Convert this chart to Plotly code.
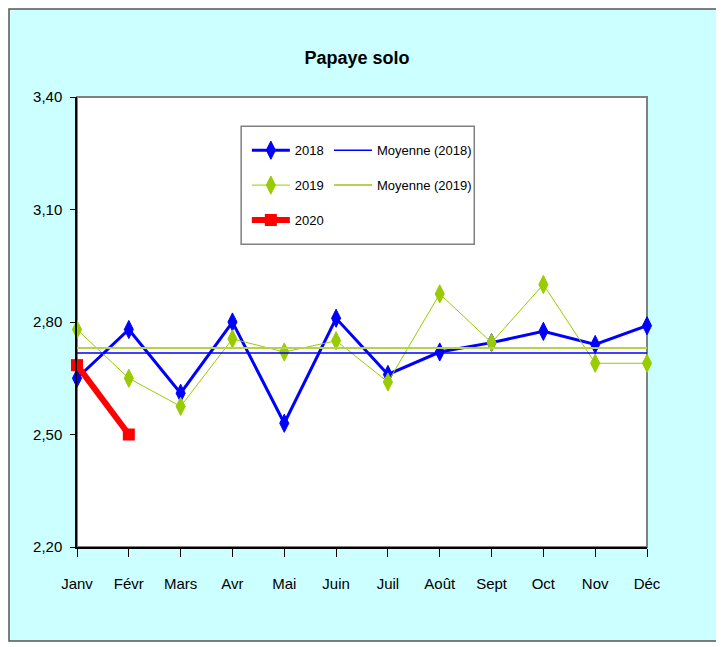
import numpy as np
import plotly.graph_objects as go

# données (prix mensuels, Papaye solo)
mois = ["Janv", "Févr", "Mars", "Avr", "Mai", "Juin", "Juil", "Août", "Sept", "Oct", "Nov", "Déc"]
prix_2018 = [2.65, 2.78, 2.61, 2.80, 2.53, 2.81, 2.66, 2.72, 2.745, 2.775, 2.74, 2.79]
prix_2019 = [2.78, 2.65, 2.575, 2.755, 2.72, 2.75, 2.64, 2.875, 2.745, 2.90, 2.69, 2.69]
prix_2020 = [2.685, 2.50]
y_ticks = [2.20, 2.50, 2.80, 3.10, 3.40]

FONT = "Liberation Sans Narrow, Arial Narrow, Liberation Sans, Arial, sans-serif"
BLEU = "#0000FF"
VERT = "#99CC00"
VERT_MOY = "#B4D24B"
ROUGE = "#FF0000"

x = list(range(len(mois)))
moy_2018 = float(np.mean(prix_2018))
moy_2019 = float(np.mean(prix_2019))

fig = go.Figure()

fig.add_trace(go.Scatter(
    x=x, y=prix_2018, name="2018", mode="lines+markers",
    line=dict(color=BLEU, width=3),
    marker=dict(symbol="diamond-tall", size=13, color=BLEU, line=dict(color=BLEU, width=1)),
    cliponaxis=False, legend="legend", legendgroup="a",
))
fig.add_trace(go.Scatter(
    x=x, y=prix_2019, name="2019", mode="lines+markers",
    line=dict(color=VERT, width=1),
    marker=dict(symbol="diamond-tall", size=13, color=VERT, line=dict(color=VERT, width=1)),
    cliponaxis=False, legend="legend", legendgroup="b",
))
fig.add_trace(go.Scatter(
    x=x[:len(prix_2020)], y=prix_2020, name="2020", mode="lines+markers",
    line=dict(color=ROUGE, width=6),
    marker=dict(symbol="square", size=12, color=ROUGE),
    cliponaxis=False, legend="legend", legendgroup="c",
))
fig.add_trace(go.Scatter(
    x=[x[0], x[-1]], y=[moy_2018, moy_2018], name="Moyenne (2018)", mode="lines",
    line=dict(color=BLEU, width=1.5),
    legend="legend2", legendgroup="d",
))
fig.add_trace(go.Scatter(
    x=[x[0], x[-1]], y=[moy_2019, moy_2019], name="Moyenne (2019)", mode="lines",
    line=dict(color=VERT_MOY, width=2),
    legend="legend2", legendgroup="e",
))

# fond cyan + cadre blanc de la zone de tracé
fig.add_shape(type="rect", xref="paper", yref="paper", x0=-0.1193, x1=1.1246, y0=-0.209, y1=1.1956,
              fillcolor="#CCFFFF", line=dict(color="#555555", width=1.5), layer="below")
fig.add_shape(type="rect", xref="paper", yref="paper", x0=0, x1=1, y0=0, y1=1,
              fillcolor="white", line=dict(color="#808080", width=2), layer="below")
# cadre de la légende
fig.add_shape(type="rect", xref="paper", yref="paper", x0=0.288, x1=0.697, y0=0.673, y1=0.935,
              fillcolor="white", line=dict(color="#808080", width=1.5), layer="below")

fig.update_layout(
    width=724, height=647,
    margin=dict(l=69, r=85, t=89, b=108),
    paper_bgcolor="white", plot_bgcolor="white",
    separators=", ",
    font=dict(family=FONT, size=15, color="black"),
    title=dict(text="<b>Papaye solo</b>", x=0.482, xanchor="center", y=0.923, yanchor="middle",
               font=dict(family=FONT, size=18, color="black")),
    legend=dict(x=0.298, y=0.915, xanchor="left", yanchor="top", bgcolor="rgba(0,0,0,0)",
                font=dict(family=FONT, size=13), itemwidth=38, tracegroupgap=15),
    legend2=dict(x=0.442, y=0.915, xanchor="left", yanchor="top", bgcolor="rgba(0,0,0,0)",
                 font=dict(family=FONT, size=13), itemwidth=38, tracegroupgap=15),
    showlegend=True,
)
fig.update_xaxes(
    range=[0, 11], tickmode="array", tickvals=x, ticktext=mois,
    showgrid=False, zeroline=False, showline=True, linecolor="black", linewidth=1.5,
    ticks="outside", ticklen=8, tickcolor="black", ticklabelstandoff=14,
)
fig.update_yaxes(
    range=[2.20, 3.40], tickmode="array", tickvals=y_ticks, tickformat=".2f",
    showgrid=False, zeroline=False, showline=True, linecolor="black", linewidth=1.5,
    ticks="outside", ticklen=5, tickcolor="black", ticklabelstandoff=5,
)

fig.write_html("out.html")
